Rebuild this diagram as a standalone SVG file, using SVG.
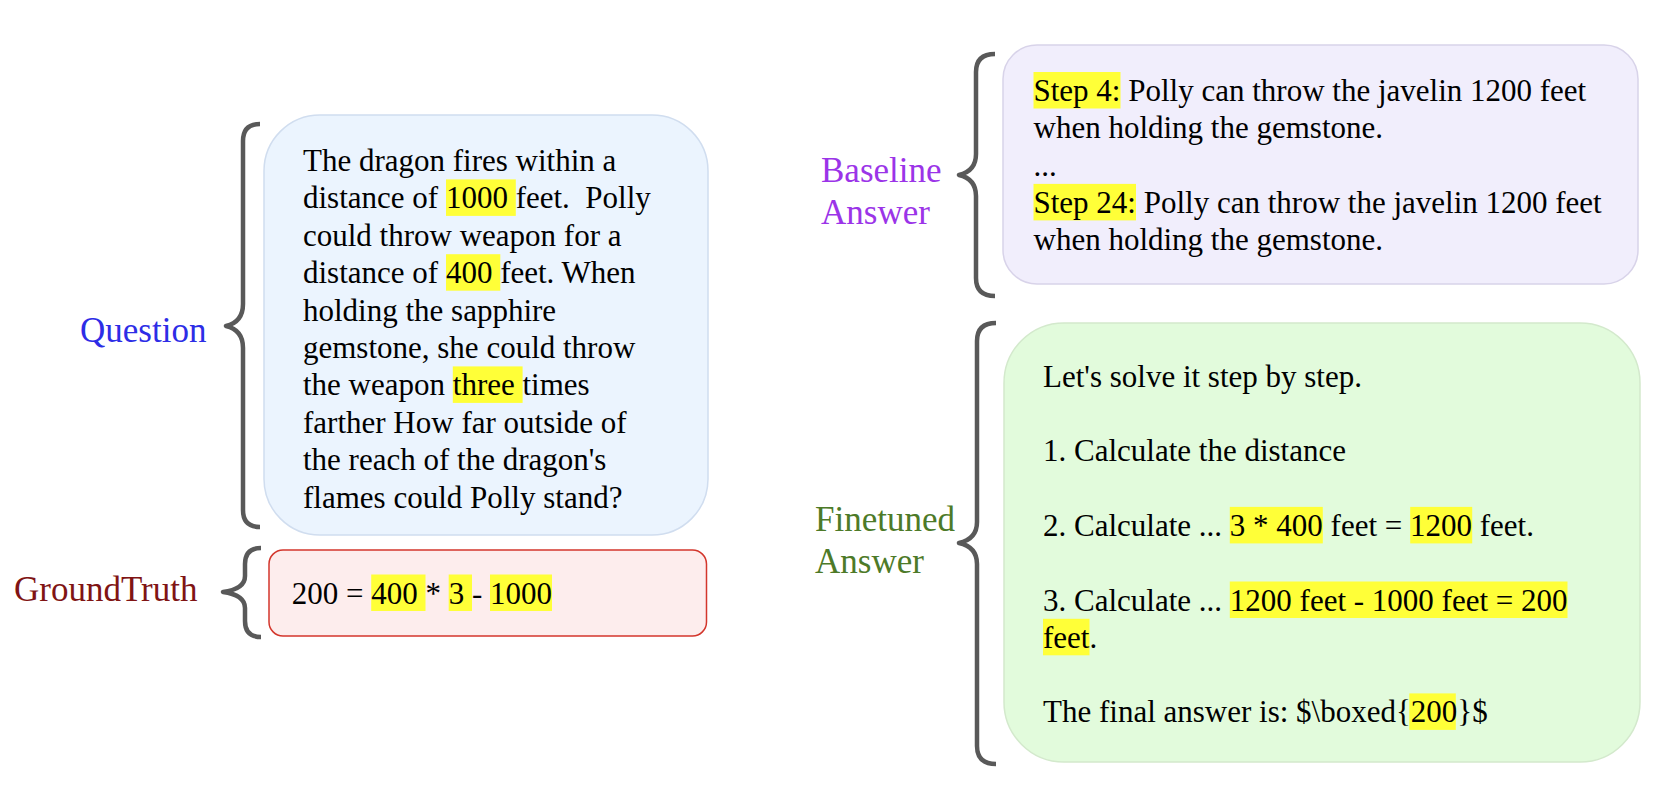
<svg xmlns="http://www.w3.org/2000/svg" width="1660" height="786" viewBox="0 0 1660 786">
<defs>
<style>
.t{font-family:"Liberation Serif","Times New Roman",serif;font-size:31px;fill:#000}
.lbl{font-family:"Liberation Serif","Times New Roman",serif;font-size:35px}
.hl{fill:#ffff38}
.brace{fill:none;stroke:#595959;stroke-width:4.5;stroke-linecap:butt;stroke-linejoin:round}
</style>
</defs>
<rect width="1660" height="786" fill="#ffffff"/>

<g id="question">
<rect x="264" y="115" width="444" height="420" rx="56" fill="#ebf4fe" stroke="#d0ddef" stroke-width="1.5"/>
<rect class="hl" x="446" y="179.4" width="69.8" height="36.5"/>
<rect class="hl" x="446" y="254.2" width="54.3" height="36.5"/>
<rect class="hl" x="452.8" y="366.4" width="69.8" height="36.5"/>
<text class="t" x="303" y="171">The dragon fires within a</text>
<text class="t" x="303" y="208.4" xml:space="preserve">distance of 1000 feet.  Polly</text>
<text class="t" x="303" y="245.8">could throw weapon for a</text>
<text class="t" x="303" y="283.2">distance of 400 feet. When</text>
<text class="t" x="303" y="320.6">holding the sapphire</text>
<text class="t" x="303" y="358">gemstone, she could throw</text>
<text class="t" x="303" y="395.4">the weapon three times</text>
<text class="t" x="303" y="432.8">farther How far outside of</text>
<text class="t" x="303" y="470.2">the reach of the dragon's</text>
<text class="t" x="303" y="507.6">flames could Polly stand?</text>
</g>

<g id="groundtruth">
<rect x="269" y="550" width="437.5" height="86" rx="14" fill="#fdeded" stroke="#d3362c" stroke-width="1.5"/>
<rect class="hl" x="371.2" y="574.5" width="54.3" height="36.5"/>
<rect class="hl" x="448.7" y="574.5" width="23.3" height="36.5"/>
<rect class="hl" x="490" y="574.5" width="62" height="36.5"/>
<text class="t" x="291.7" y="603.5">200 = 400 * 3 - 1000</text>
</g>

<g id="baseline">
<rect x="1003" y="45" width="635" height="239" rx="34" fill="#f1eefc" stroke="#d8d3e9" stroke-width="1.5"/>
<rect class="hl" x="1033.5" y="72" width="87" height="36.5"/>
<rect class="hl" x="1033.5" y="183.9" width="102.5" height="36.5"/>
<text class="t" x="1033.5" y="101">Step 4: Polly can throw the javelin 1200 feet</text>
<text class="t" x="1033.5" y="138.3">when holding the gemstone.</text>
<text class="t" x="1033.5" y="175.6">...</text>
<text class="t" x="1033.5" y="212.9">Step 24: Polly can throw the javelin 1200 feet</text>
<text class="t" x="1033.5" y="250.2">when holding the gemstone.</text>
</g>

<g id="finetuned">
<rect x="1004" y="323" width="636" height="439" rx="60" fill="#e2fbdc" stroke="#d3e9cc" stroke-width="1.5"/>
<rect class="hl" x="1229.8" y="506.9" width="93" height="36.5"/>
<rect class="hl" x="1410.2" y="506.9" width="62" height="36.5"/>
<rect class="hl" x="1229.8" y="581.5" width="337.7" height="36.5"/>
<rect class="hl" x="1043" y="618.8" width="46.5" height="36.5"/>
<rect class="hl" x="1409.3" y="693.4" width="46.5" height="36.5"/>
<text class="t" x="1043" y="386.7">Let's solve it step by step.</text>
<text class="t" x="1043" y="461.3">1. Calculate the distance</text>
<text class="t" x="1043" y="535.9">2. Calculate ... 3 * 400 feet = 1200 feet.</text>
<text class="t" x="1043" y="610.5">3. Calculate ... 1200 feet - 1000 feet = 200</text>
<text class="t" x="1043" y="647.8">feet.</text>
<text class="t" x="1043" y="722.4">The final answer is: $\boxed{200}$</text>
</g>

<g id="labels">
<text class="lbl" x="80" y="341.7" fill="#2d2de6">Question</text>
<text class="lbl" x="14" y="601" fill="#801414">GroundTruth</text>
<text class="lbl" x="821" y="182" fill="#9b34e8">Baseline</text>
<text class="lbl" x="821" y="223.5" fill="#9b34e8">Answer</text>
<text class="lbl" x="815" y="531" fill="#4d7a28">Finetuned</text>
<text class="lbl" x="815" y="573" fill="#4d7a28">Answer</text>
</g>

<g id="connectors">
<path class="brace" d="M 260 124 Q 243 124 243 141 L 243 304 Q 243 322 226 326 Q 243 330 243 348 L 243 510 Q 243 527 260 527"/>
<path class="brace" d="M 261 548 Q 245 548 245 564 L 245 576 Q 245 589 223 592 Q 245 595 245 608 L 245 621 Q 245 637 261 637"/>
<path class="brace" d="M 995 54 Q 976 54 976 72 L 976 154 Q 976 171 959 175 Q 976 179 976 196 L 976 278 Q 976 296 995 296"/>
<path class="brace" d="M 996 323 Q 977 323 977 341 L 977 522 Q 977 539 959 543 Q 977 547 977 564 L 977 746 Q 977 764 996 764"/>
</g>
</svg>
